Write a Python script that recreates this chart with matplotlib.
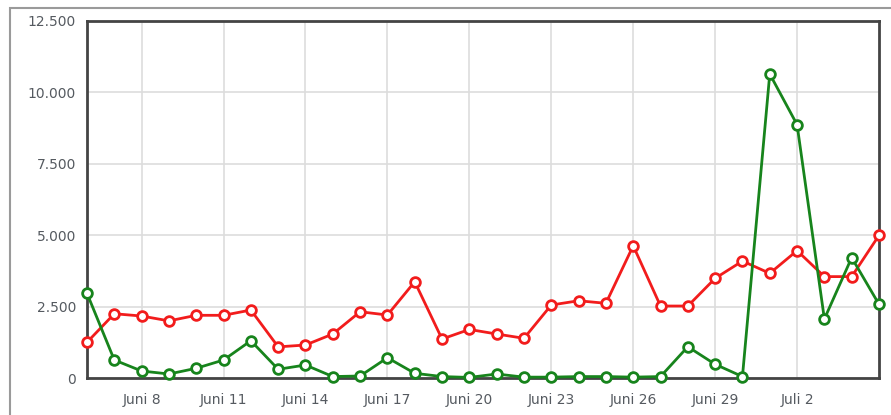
import matplotlib
matplotlib.use("Agg")
import matplotlib.pyplot as plt
from matplotlib.patches import Rectangle

# one point per day, Juni 6 .. Juli 5
days = ["Juni %d" % d for d in range(6, 31)] + ["Juli %d" % d for d in range(1, 6)]

red = [1250, 2250, 2170, 2000, 2195, 2195, 2380, 1090, 1155, 1540,
       2320, 2205, 3370, 1365, 1700, 1540, 1390, 2555, 2705, 2615,
       4630, 2520, 2520, 3490, 4095, 3665, 4460, 3550, 3550, 4995]
green = [2965, 630, 245, 140, 340, 630, 1305, 305, 455, 50,
         70, 710, 165, 50, 20, 140, 30, 30, 50, 50,
         30, 50, 1095, 480, 50, 10645, 8870, 2065, 4215, 2580]

xtick_days = ["Juni 8", "Juni 11", "Juni 14", "Juni 17", "Juni 20",
              "Juni 23", "Juni 26", "Juni 29", "Juli 2"]
yticks = [0, 2500, 5000, 7500, 10000, 12500]
ytick_labels = ["0", "2.500", "5.000", "7.500", "10.000", "12.500"]

fig = plt.figure(figsize=(8.91, 4.15), dpi=100)
ax = fig.add_axes([87 / 891, 37 / 415, 792 / 891, 357 / 415])

# outer light frame (open on the right and bottom)
fig.patches.append(Rectangle((10 / 891, -0.01), 0.99, 1 - 8 / 415 + 0.01,
                             transform=fig.transFigure, fill=False,
                             edgecolor="#9a9a9a", linewidth=1.5))

x = list(range(len(days)))
style = dict(linewidth=2.0, marker="o", markersize=7, markerfacecolor="white",
             markeredgewidth=2.0, clip_on=False, zorder=3)
ax.plot(x, red, color="#f21c1c", **style)
ax.plot(x, green, color="#17841c", **style)

ax.set_xlim(0, len(days) - 1)
ax.set_ylim(0, 12500)
ax.set_xticks([days.index(d) for d in xtick_days])
ax.set_xticklabels(xtick_days)
ax.set_yticks(yticks)
ax.set_yticklabels(ytick_labels)
ax.tick_params(length=0, labelsize=10, labelcolor="#555a60")
ax.tick_params(axis="x", pad=11)
ax.tick_params(axis="y", pad=8)
ax.grid(True, color="#dddddd", linewidth=1.2)
ax.set_axisbelow(True)
for s in ax.spines.values():
    s.set_color("#444444")
    s.set_linewidth(2)

fig.savefig("out.png", dpi=100)
